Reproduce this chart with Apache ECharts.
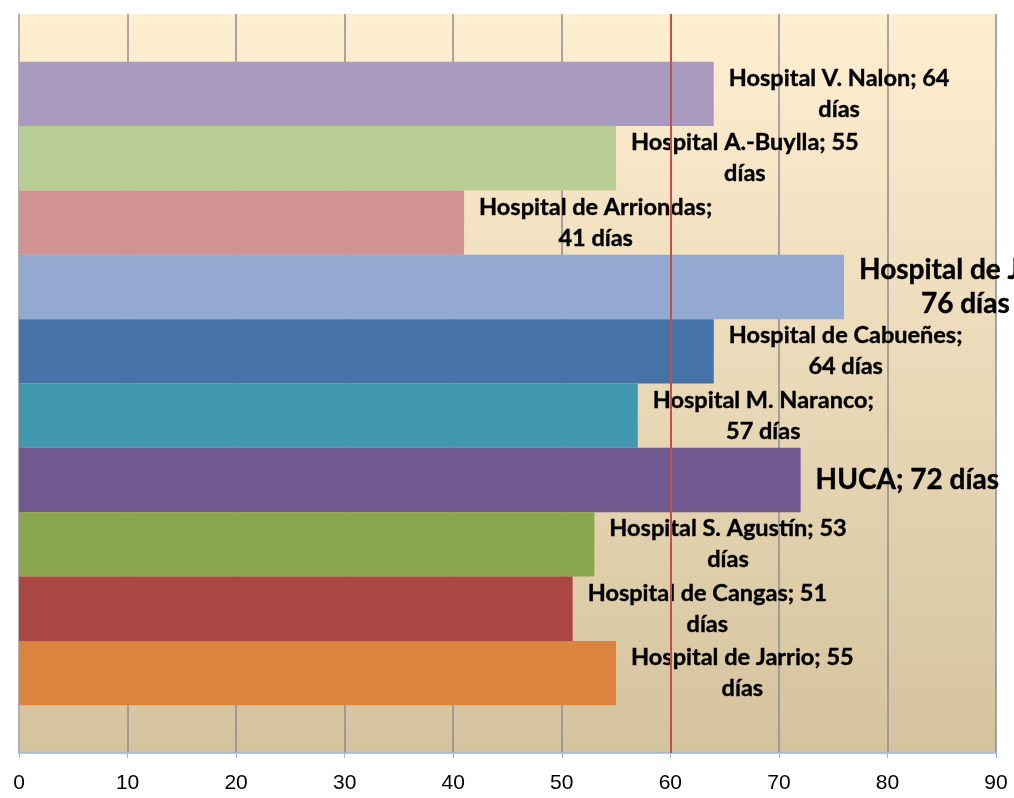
<!DOCTYPE html>
<html>
<head>
<meta charset="utf-8">
<script src="https://cdn.jsdelivr.net/npm/echarts@6/dist/echarts.min.js"></script>
<style>
    html, body {margin: 0; padding: 0; background: #fff;}
    #chart {width: 1014px; height: 798px;}
</style>
</head>
<body>
<div id="chart"></div>
<script>
// hospitales, de arriba abajo
var hospitales = ['Hospital V. Nalon', 'Hospital A.-Buylla', 'Hospital de Arriondas', 'Hospital de Jove',
    'Hospital de Cabueñes', 'Hospital M. Naranco', 'HUCA', 'Hospital S. Agustín', 'Hospital de Cangas', 'Hospital de Jarrio'];
var dias = [64, 55, 41, 76, 64, 57, 72, 53, 51, 55];
// texto de las etiquetas tal como aparecen (con su salto de linea)
var etiquetas = ['Hospital V. Nalon; 64\ndías', 'Hospital A.-Buylla; 55\ndías', 'Hospital de Arriondas;\n41 días',
    'Hospital de Jove;\n76 días', 'Hospital de Cabueñes;\n64 días', 'Hospital M. Naranco;\n57 días', 'HUCA; 72 días',
    'Hospital S. Agustín; 53\ndías', 'Hospital de Cangas; 51\ndías', 'Hospital de Jarrio; 55\ndías'];
var limite = 60;
var xTicks = [0, 10, 20, 30, 40, 50, 60, 70, 80, 90];

var colores = ['#A99BBD', '#B9CD96', '#D19392', '#93A9CF', '#4572A7', '#4198AF', '#71588F', '#89A54E', '#AA4643', '#DB843D'];
var grandes = ['Hospital de Jove', 'HUCA'];

var ctx = document.createElement('canvas').getContext('2d');
function anchoMax(txt, size) {
    ctx.font = 'bold ' + size + 'px Lato';
    var w = 0;
    txt.split('\n').forEach(function (l) {
        w = Math.max(w, ctx.measureText(l).width);
    });
    return w;
}

var series = hospitales.map(function (h, i) {
    var grande = grandes.indexOf(h) >= 0;
    var size = grande ? 28 : 23.5;
    var w = anchoMax(etiquetas[i], size);
    var s = {
        name: h,
        type: 'bar',
        barGap: '0%',
        barCategoryGap: '12.9%',
        itemStyle: {color: colores[i]},
        label: {
            show: true,
            position: 'right',
            distance: 15,
            align: 'center',
            offset: [w / 2, 0],
            fontFamily: 'Lato',
            fontWeight: 'bold',
            fontSize: size,
            lineHeight: grande ? 34 : 31,
            color: '#000',
            textBorderColor: '#000',
            textBorderWidth: 0.4,
            formatter: etiquetas[i]
        },
        data: [dias[i]]
    };
    if (i == 0) {
        s.markLine = {
            silent: true,
            symbol: 'none',
            label: {show: false},
            lineStyle: {color: '#C0504D', width: 2, type: 'solid'},
            data: [{xAxis: limite}]
        };
    }
    return s;
});

var chart = echarts.init(document.getElementById('chart'));
chart.setOption({
    animation: false,
    grid: {
        left: 19, right: 18, top: 14, bottom: 45,
        show: true,
        borderWidth: 0,
        backgroundColor: new echarts.graphic.LinearGradient(0, 0, 0, 1, [
            {offset: 0, color: '#FFEFD1'},
            {offset: 1, color: '#D4C39D'}
        ])
    },
    xAxis: {
        type: 'value',
        min: xTicks[0],
        max: xTicks[xTicks.length - 1],
        interval: 10,
        axisLine: {show: true, lineStyle: {color: '#9DB9DE', width: 1.5}},
        axisTick: {show: true, length: 5, lineStyle: {color: '#9DB9DE'}},
        axisLabel: {
            color: '#000',
            fontSize: 21,
            fontFamily: 'Liberation Sans',
            margin: 20
        },
        splitLine: {show: true, lineStyle: {color: '#8C8C8C', width: 1.5}}
    },
    yAxis: {
        type: 'category',
        data: [''],
        axisLine: {show: true, lineStyle: {color: '#B4B4B4', width: 1.5}},
        axisTick: {show: false},
        axisLabel: {show: false}
    },
    series: series
});
</script>
</body>
</html>
